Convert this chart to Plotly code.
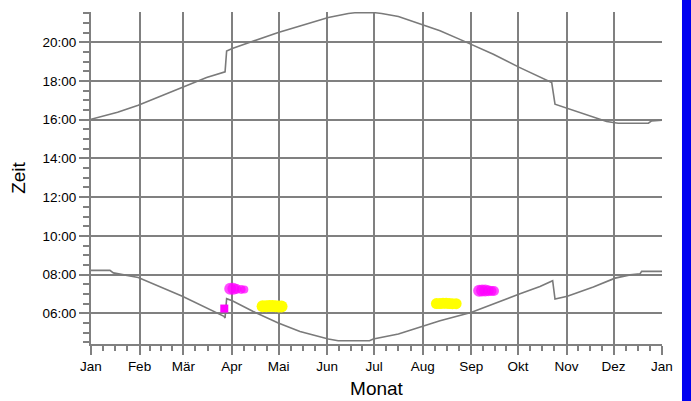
import plotly.graph_objects as go

# ---- data (day of year, hour of day) ----
month_labels = ["Jan", "Feb", "Mär", "Apr", "Mai", "Jun", "Jul", "Aug", "Sep", "Okt", "Nov", "Dez", "Jan"]
month_starts = [0, 31, 59, 90, 120, 151, 181, 212, 243, 273, 304, 334, 365]
hour_ticks = [6, 8, 10, 12, 14, 16, 18, 20]
hour_labels = ["06:00", "08:00", "10:00", "12:00", "14:00", "16:00", "18:00", "20:00"]

sunset_day = [0, 17, 30.2, 42, 58.4, 73.9, 85.7, 86.7, 90.3, 103.7, 119.7, 133.6, 151.7,
              164.5, 170, 180.5, 185.8, 196.5, 212.4, 223.1, 238, 242.9, 257.2, 273.8,
              287, 294.5, 296.6, 304.5, 321.1, 329.6, 337, 356.3, 358.4, 365]
sunset_hour = [16.02, 16.38, 16.75, 17.13, 17.67, 18.18, 18.47, 19.55, 19.68, 20.07, 20.5, 20.84, 21.28,
               21.48, 21.53, 21.53, 21.48, 21.33, 20.88, 20.59, 20.07, 19.9, 19.38, 18.7,
               18.18, 17.92, 16.8, 16.58, 16.12, 15.91, 15.82, 15.82, 15.94, 15.98]

sunrise_day = [0, 12.1, 14.3, 30.2, 58.4, 85, 85.7, 86.7, 90.3, 103.7, 119.7, 133.6, 151.7,
               158, 178, 180.5, 196.5, 212.4, 223.1, 242.9, 257.2, 273.8, 287, 295.1,
               296.6, 304.5, 321.1, 335, 344.6, 351, 352, 365]
sunrise_hour = [8.22, 8.22, 8.09, 7.85, 6.88, 5.85, 5.76, 6.76, 6.65, 6.1, 5.5, 5.07, 4.68,
                4.59, 4.59, 4.68, 4.94, 5.33, 5.62, 6.05, 6.5, 7.0, 7.39, 7.69,
                6.74, 6.88, 7.36, 7.82, 7.99, 8.05, 8.17, 8.17]

magenta1_day = [89, 91, 93, 96, 98]
magenta1_hour = [7.27, 7.27, 7.26, 7.24, 7.24]
magenta1_size = [12, 12, 10, 9, 8]

magenta_sq_day = [85.2]
magenta_sq_hour = [6.25]

yellow1_day = [109.7, 112, 114, 116, 118, 120, 121.8]
yellow1_hour = [6.37, 6.37, 6.38, 6.38, 6.37, 6.36, 6.36]

yellow2_day = [220.8, 223, 225, 227, 229, 231, 233.4]
yellow2_hour = [6.51, 6.51, 6.52, 6.52, 6.51, 6.5, 6.5]

magenta2_day = [248.1, 250, 252, 254, 256, 257.6]
magenta2_hour = [7.17, 7.18, 7.18, 7.17, 7.16, 7.16]
magenta2_size = [12, 12, 12, 11, 10, 10]

month_lengths = [31, 28, 31, 30, 31, 30, 31, 31, 30, 31, 30, 31]
minor_x = []
for s, n in zip(month_starts[:-1], month_lengths):
    for k in (1, 2, 3):
        minor_x.append(s + n * k / 4)

GRAY = "#808080"
LINE = "#7a7a7a"
FONT = "Liberation Sans, Arial, sans-serif"

fig = go.Figure()
fig.add_trace(go.Scatter(x=sunset_day, y=sunset_hour, mode="lines",
                         line=dict(color=LINE, width=1.6), hoverinfo="skip"))
fig.add_trace(go.Scatter(x=sunrise_day, y=sunrise_hour, mode="lines",
                         line=dict(color=LINE, width=1.6), hoverinfo="skip"))
fig.add_trace(go.Scatter(x=magenta1_day, y=magenta1_hour, mode="markers",
                         marker=dict(color="#ff00ff", size=magenta1_size, line=dict(width=0))))
fig.add_trace(go.Scatter(x=magenta_sq_day, y=magenta_sq_hour, mode="markers",
                         marker=dict(color="#ff00ff", size=8, symbol="square", line=dict(width=0))))
fig.add_trace(go.Scatter(x=yellow1_day, y=yellow1_hour, mode="markers",
                         marker=dict(color="#ffff00", size=12, line=dict(width=0))))
fig.add_trace(go.Scatter(x=yellow2_day, y=yellow2_hour, mode="markers",
                         marker=dict(color="#ffff00", size=11, line=dict(width=0))))
fig.add_trace(go.Scatter(x=magenta2_day, y=magenta2_hour, mode="markers",
                         marker=dict(color="#ff00ff", size=magenta2_size, line=dict(width=0))))

fig.update_layout(
    width=691, height=401, autosize=False,
    margin=dict(l=91, r=29, t=12, b=57),
    paper_bgcolor="white", plot_bgcolor="white",
    showlegend=False,
    font=dict(family=FONT, color="black", size=13),
    xaxis=dict(
        range=[0, 365], tickmode="array", tickvals=month_starts, ticktext=month_labels,
        showgrid=True, gridcolor=GRAY, gridwidth=2,
        showline=True, linecolor=GRAY, linewidth=2,
        ticks="outside", ticklen=9, tickwidth=2, tickcolor=GRAY,
        tickfont=dict(size=13.5, family=FONT, color="black"),
        minor=dict(tickmode="array", tickvals=minor_x, ticks="outside", ticklen=5,
                   tickwidth=1.5, tickcolor=GRAY, showgrid=False),
        zeroline=False, automargin=False,
        title=dict(text="Monat", font=dict(size=19, family=FONT, color="black"), standoff=8),
    ),
    yaxis=dict(
        range=[4.42, 21.56], tickmode="array", tickvals=hour_ticks, ticktext=hour_labels,
        showgrid=True, gridcolor=GRAY, gridwidth=2,
        showline=True, linecolor=GRAY, linewidth=2,
        ticks="outside", ticklen=10, tickwidth=2, tickcolor=GRAY,
        tickfont=dict(size=13.5, family=FONT, color="black"),
        minor=dict(tickmode="linear", tick0=4.5, dtick=0.5, ticks="outside", ticklen=6,
                   tickwidth=1.5, tickcolor=GRAY, showgrid=False),
        zeroline=False, automargin=False,
        title=dict(text="Zeit", font=dict(size=19, family=FONT, color="black"), standoff=12),
    ),
    shapes=[dict(type="rect", xref="paper", yref="paper", x0=1.035, x1=1.07, y0=-0.2, y1=1.1,
                 fillcolor="#0000f0", line=dict(width=0), layer="above")],
)

fig.write_html(
    "out.html",
    config={"responsive": False, "displayModeBar": False},
    post_script="document.body.style.margin='0';document.body.style.overflow='hidden';"
                "document.documentElement.style.overflow='hidden';",
)
